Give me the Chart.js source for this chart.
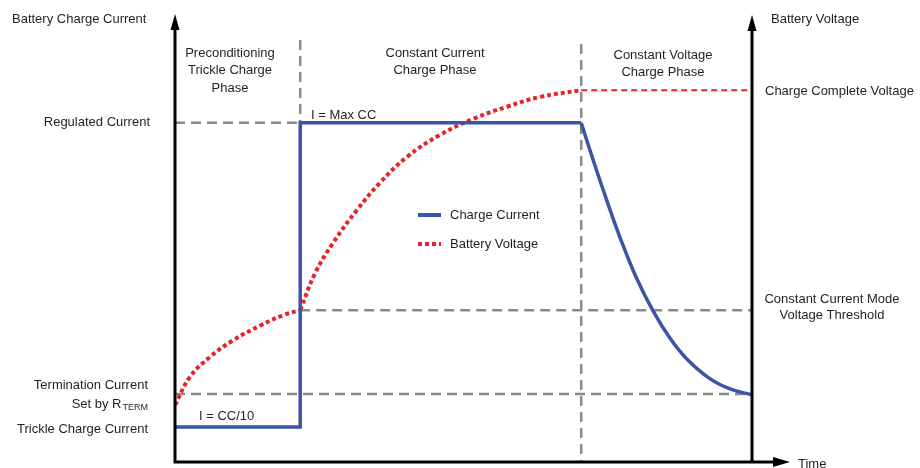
<!DOCTYPE html>
<html>
<head>
<meta charset="utf-8">
<script src="https://cdn.jsdelivr.net/npm/chart.js@4/dist/chart.umd.min.js"></script>
<style>
    html, body { margin: 0; padding: 0; background: #fff; }
    #wrap { width: 920px; height: 468px; position: relative; }
</style>
</head>
<body>
<div id="wrap"><canvas id="chargeChart"></canvas></div>
<script>
// Time runs 0..100 across the plot, both vertical scales run 0..100
const phaseLabels = [
    ['Preconditioning', 'Trickle Charge', 'Phase'],
    ['Constant Current', 'Charge Phase'],
    ['Constant Voltage', 'Charge Phase']
];
const phaseEdges = [21.7, 70.4];

const currentTickLabels = ['Trickle Charge Current', 'Termination Current', 'Regulated Current'];
const currentTicks = [7.8, 15.2, 75.7];
const voltageTickLabels = ['Constant Current Mode Voltage Threshold', 'Charge Complete Voltage'];
const voltageTicks = [33.9, 83.0];

// Charge current: trickle step, constant current, then decay in CV phase
const currentStepX = [0, 21.7, 21.7, 70.4];
const currentStepY = [7.8, 7.8, 75.7, 75.7];
const currentDecayX = [70.4, 72.5, 74.8, 77.1, 80.0, 82.9, 85.8, 88.7, 92.7, 96.2, 100];
const currentDecayY = [75.7, 67.3, 58.5, 50.2, 41.0, 33.6, 27.6, 23.0, 18.6, 16.3, 15.0];

// Battery voltage
const voltTrickleX = [0, 2.6, 6.1, 10.1, 14.7, 18.8, 21.7];
const voltTrickleY = [12.7, 19.0, 23.5, 27.2, 30.4, 32.8, 33.9];
const voltCCX = [21.7, 24.3, 27.4, 31.5, 35.5, 40.2, 45.9, 51.7, 57.5, 63.3, 70.4];
const voltCCY = [33.9, 42.2, 48.9, 56.2, 62.3, 68.1, 73.0, 76.6, 79.3, 81.5, 83.0];
const voltCVX = [70.4, 100];
const voltCVY = [83.0, 83.0];

const BLUE = '#3a55a6';
const RED = '#e8222b';
const GREY = '#8a8a8a';
const INK = '#231f20';
const FONT = '13px "Liberation Sans", Arial, sans-serif';

const pts = (xs, ys) => xs.map((x, i) => ({ x: x, y: ys[i] }));

const diagram = {
    id: 'diagram',
    beforeDatasetsDraw(chart) {
        const c = chart.ctx;
        const sx = chart.scales.x, sy = chart.scales.y;
        const X = v => sx.getPixelForValue(v);
        const Y = v => sy.getPixelForValue(v);
        c.save();
        c.strokeStyle = GREY;
        c.lineWidth = 2.5;
        c.setLineDash([10, 6]);
        const seg = (x1, y1, x2, y2) => {
            c.beginPath(); c.moveTo(x1, y1); c.lineTo(x2, y2); c.stroke();
        };
        // horizontal guides
        seg(X(0), Y(currentTicks[2]), X(phaseEdges[0]), Y(currentTicks[2]));
        seg(X(0), Y(currentTicks[1]), X(100), Y(currentTicks[1]));
        seg(X(phaseEdges[0]), Y(voltageTicks[0]), X(100), Y(voltageTicks[0]));
        // phase dividers
        seg(X(phaseEdges[0]), 40, X(phaseEdges[0]), Y(currentTicks[2]));
        seg(X(phaseEdges[1]), 44, X(phaseEdges[1]), Y(0));
        c.restore();
    },
    afterDatasetsDraw(chart) {
        const c = chart.ctx;
        const sx = chart.scales.x, sy = chart.scales.y;
        const X = v => sx.getPixelForValue(v);
        const Y = v => sy.getPixelForValue(v);
        const left = X(0), right = X(100), bottom = Y(0);
        c.save();

        // axes with arrow heads
        c.strokeStyle = '#000';
        c.fillStyle = '#000';
        c.lineWidth = 3;
        c.setLineDash([]);
        c.beginPath();
        c.moveTo(left, bottom + 1.5); c.lineTo(left, 26);
        c.moveTo(right, bottom + 1.5); c.lineTo(right, 27);
        c.moveTo(left - 1.5, bottom); c.lineTo(776, bottom);
        c.stroke();
        const upArrow = (x, tip) => {
            c.beginPath(); c.moveTo(x, tip); c.lineTo(x - 4.5, tip + 16); c.lineTo(x + 4.5, tip + 16); c.closePath(); c.fill();
        };
        upArrow(left, 14);
        upArrow(right, 15);
        c.beginPath(); c.moveTo(790, bottom); c.lineTo(773, bottom - 5); c.lineTo(773, bottom + 5); c.closePath(); c.fill();

        // text
        c.fillStyle = INK;
        c.font = FONT;
        c.textBaseline = 'middle';
        c.textAlign = 'left';
        c.fillText('Battery Charge Current', 12, 19);
        c.fillText('Battery Voltage', 771, 19);
        c.fillText('Time', 798, 464);
        c.fillText('I = CC/10', 199, 416);
        c.fillText('I = Max CC', 311, 115);
        c.fillText(voltageTickLabels[1], 765, Y(voltageTicks[1]) + 1);

        c.textAlign = 'center';
        const phaseX = [230, 435, 663];
        const phaseY = [53, 53, 55];
        phaseLabels.forEach((lines, i) => {
            lines.forEach((t, j) => c.fillText(t, phaseX[i], phaseY[i] + j * 17.5));
        });
        const thr = Y(voltageTicks[0]);
        c.fillText('Constant Current Mode', 832, thr - 11);
        c.fillText('Voltage Threshold', 832, thr + 5);

        c.textAlign = 'right';
        c.fillText(currentTickLabels[2], 150, Y(currentTicks[2]));
        c.fillText(currentTickLabels[0], 148, Y(currentTicks[0]) + 2);
        const term = Y(currentTicks[1]);
        c.fillText(currentTickLabels[1], 148, term - 8);
        c.font = '9px "Liberation Sans", Arial, sans-serif';
        const subW = c.measureText('TERM').width;
        c.fillText('TERM', 148, term + 14);
        c.font = FONT;
        c.fillText('Set by R', 148 - subW - 1, term + 11);

        // legend
        c.textAlign = 'left';
        c.lineWidth = 4;
        c.strokeStyle = BLUE;
        c.beginPath(); c.moveTo(418, 215); c.lineTo(441, 215); c.stroke();
        c.fillText(chart.data.datasets[0].label, 450, 215);
        c.strokeStyle = RED;
        c.setLineDash([4, 3]);
        c.beginPath(); c.moveTo(418, 244); c.lineTo(441, 244); c.stroke();
        c.setLineDash([]);
        c.fillText(chart.data.datasets[2].label, 450, 244);
        c.restore();
    }
};

const ctx = document.getElementById('chargeChart').getContext('2d');

const chargeChart = new Chart(ctx, {
    type: 'line',
    data: {
        datasets: [
            {
                label: 'Charge Current',
                data: pts(currentStepX, currentStepY),
                borderColor: BLUE,
                borderWidth: 3.5,
                tension: 0,
                borderJoinStyle: 'miter'
            },
            {
                label: 'Charge Current (CV)',
                data: pts(currentDecayX, currentDecayY),
                borderColor: BLUE,
                borderWidth: 3.5,
                tension: 0.4
            },
            {
                label: 'Battery Voltage',
                data: pts(voltTrickleX, voltTrickleY),
                borderColor: RED,
                borderWidth: 4,
                borderDash: [4, 3],
                tension: 0.4
            },
            {
                label: 'Battery Voltage (CC)',
                data: pts(voltCCX, voltCCY),
                borderColor: RED,
                borderWidth: 4,
                borderDash: [4, 3],
                tension: 0.4
            },
            {
                label: 'Battery Voltage (CV)',
                data: pts(voltCVX, voltCVY),
                borderColor: RED,
                borderWidth: 2,
                borderDash: [6, 4],
                tension: 0
            }
        ]
    },
    options: {
        responsive: true,
        maintainAspectRatio: false,
        animation: false,
        elements: { point: { radius: 0, hoverRadius: 0 } },
        layout: { padding: { left: 175, right: 168, top: 14, bottom: 6 } },
        scales: {
            x: { type: 'linear', min: 0, max: 100, display: false },
            y: { type: 'linear', min: 0, max: 100, display: false }
        },
        plugins: {
            legend: { display: false },
            tooltip: { enabled: false }
        }
    },
    plugins: [diagram]
});
</script>
</body>
</html>
